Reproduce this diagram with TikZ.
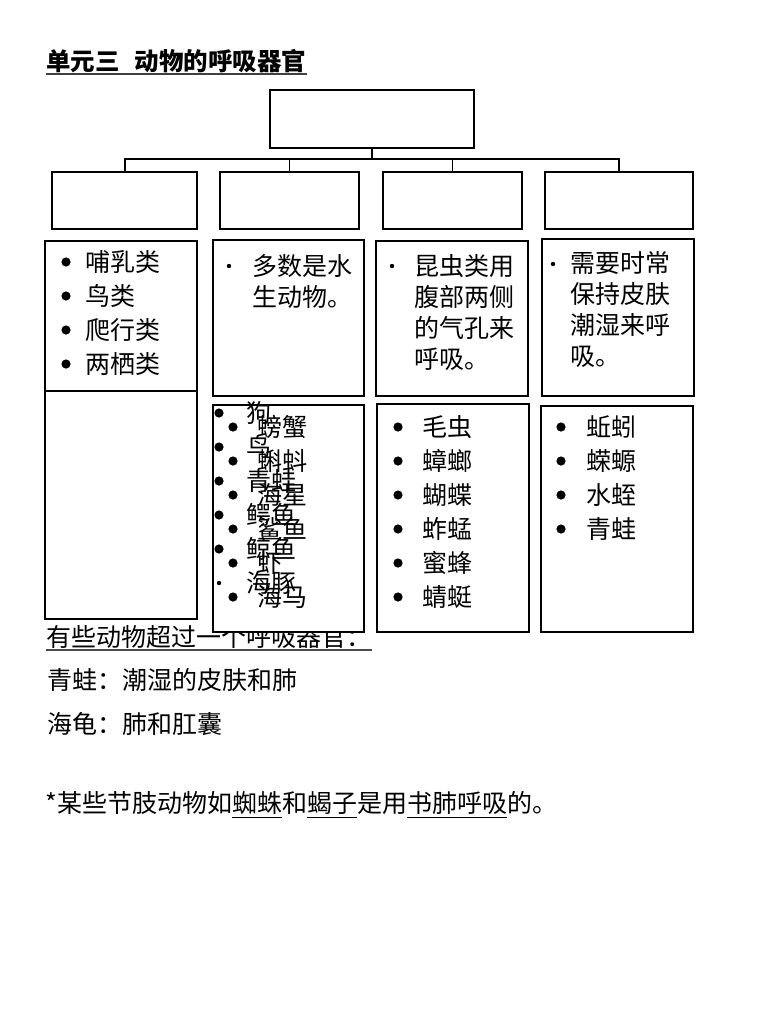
\documentclass[tikz,border=0pt]{standalone}
\usepackage{fontspec}
\setmainfont{Noto Sans CJK SC}
\usetikzlibrary{fit}

\begin{document}
\begin{tikzpicture}[x=0.5pt, y=-0.5pt,
    box/.style={draw, line width=0.65pt, fill=white, inner sep=0pt},
    topbox/.style={box, line width=1.2pt},
    txt/.style={inner sep=0pt, anchor=west, font=\fontsize{12.5}{15.5}\selectfont, text height=11pt, text depth=1.5pt},
    para/.style={inner sep=0pt, anchor=north west, align=left, font=\fontsize{12.5}{15.5}\selectfont},
    dot/.style={circle, fill, inner sep=0pt, minimum size=4.6pt},
    sdot/.style={circle, fill, inner sep=0pt, minimum size=2.2pt}]
    \path[use as bounding box, fill=white] (0,0) rectangle (768,1024);

    \node[txt, font=\fontsize{12.25}{14}\selectfont\bfseries] (title) at (46,61) {单元三\hspace{0.6em}动物的呼吸器官};
    \draw[line width=1pt, black!75] (title.south west) -- (title.south east);

    % notes come first, box b2 covers part of the first one
    \node[txt] (n1) at (46,637) {有些动物超过一个呼吸器官：};
    \draw[line width=1pt, black!70] (n1.south west) -- (n1.south east);
    \node[txt] (n2) at (47,680) {青蛙：潮湿的皮肤和肺};
    \node[txt] (n3) at (47,724) {海龟：肺和肛囊};
    \node[txt] (n4) at (45,803) {*某些节肢动物如\underline{蜘蛛}和\underline{蝎子}是用\underline{书肺呼吸}的。};

    \node[topbox, fit={(270,90) (474,148)}] (top) {};
    \node[box, fit={(52,172) (197,229)}] (l1) {};
    \node[box, fit={(220,172) (359,229)}] (l2) {};
    \node[box, fit={(383,172) (522,229)}] (l3) {};
    \node[box, fit={(545,172) (693,229)}] (l4) {};

    \coordinate (bus) at (372,159);
    \draw[line width=1pt] (top.south) -- (bus);
    \draw[line width=1pt] (l1.north) |- (bus) -| (l4.north);
    \draw[line width=0.65pt] (l2.north) -- (l2.north |- bus);
    \draw[line width=0.65pt] (l3.north) -- (l3.north |- bus);

    \node[box, fit={(45,241) (197,391)}] (a1) {};
    \node[box, fit={(213,240) (364,396)}] (b1) {};
    \node[box, fit={(376,241) (528,396)}] (c1) {};
    \node[box, fit={(542,239) (694,396)}] (d1) {};
    \node[box, fit={(45,391) (197,619)}] (a2) {};
    \node[box, fit={(213,405) (364,632)}] (b2) {};
    \node[box, fit={(377,404) (529,632)}] (c2) {};
    \node[box, fit={(541,406) (693,632)}] (d2) {};

    \foreach \t [count=\i] in {哺乳类, 鸟类, 爬行类, 两栖类} {
        \node[dot] (a1b\i) at (66,262+34*\i-34) {};
        \node[txt] (a1t\i) at (85,262+34*\i-34) {\t};
    }

    \node[sdot] (b1b) at (229,266) {};
    \node[para] (b1t) at (252,254) {多数是水\\生动物。};
    \node[sdot] (c1b) at (392,266) {};
    \node[para] (c1t) at (414,254) {昆虫类用\\腹部两侧\\的气孔来\\呼吸。};
    \node[sdot] (d1b) at (553,264) {};
    \node[para] (d1t) at (570,251) {需要时常\\保持皮肤\\潮湿来呼\\吸。};

    \foreach \t/\s [count=\i] in {狗/dot, 鸟/dot, 青蛙/dot, 鳄鱼/dot, 鲸鱼/dot, 海豚/sdot} {
        \node[\s] (b2l\i) at (219,413+34*\i-34) {};
        \node[txt] (b2lt\i) at (246,413+34*\i-34) {\t};
    }
    \foreach \t [count=\i] in {螃蟹, 蝌蚪, 海星, 鲨鱼, 虾, 海马} {
        \node[dot] (b2r\i) at (233,427+34*\i-34) {};
        \node[txt] (b2rt\i) at (257,427+34*\i-34) {\t};
    }
    \foreach \t [count=\i] in {毛虫, 蟑螂, 蝴蝶, 蚱蜢, 蜜蜂, 蜻蜓} {
        \node[dot] (c2b\i) at (398,427+34*\i-34) {};
        \node[txt] (c2t\i) at (422,427+34*\i-34) {\t};
    }
    \foreach \t [count=\i] in {蚯蚓, 蝾螈, 水蛭, 青蛙} {
        \node[dot] (d2b\i) at (561,427+34*\i-34) {};
        \node[txt] (d2t\i) at (586,427+34*\i-34) {\t};
    }
\end{tikzpicture}
\end{document}
